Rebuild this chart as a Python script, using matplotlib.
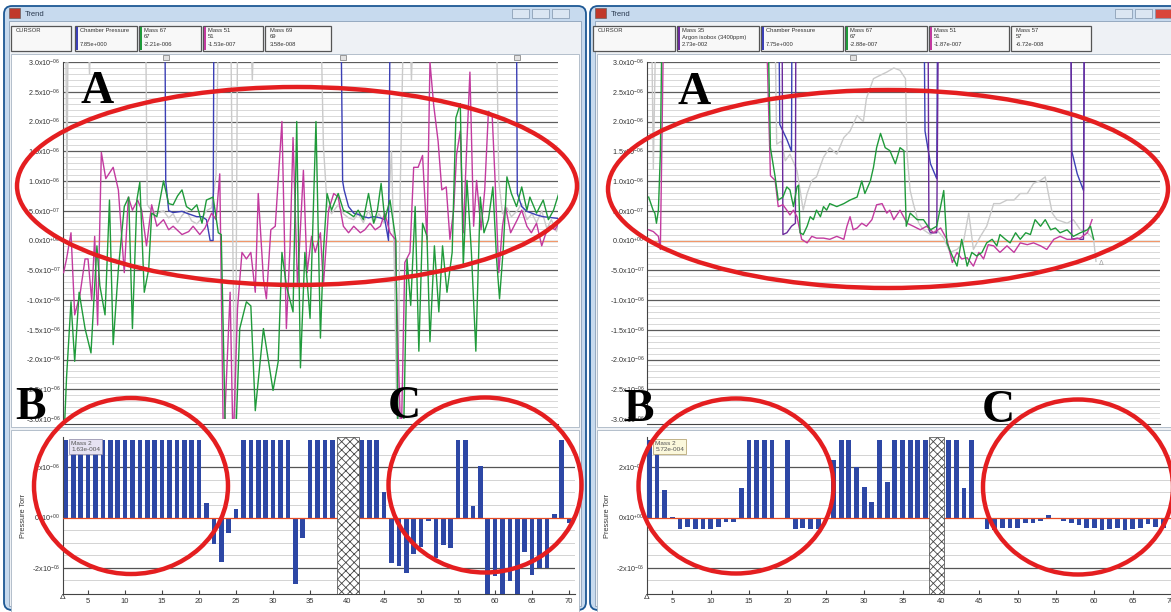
import numpy as np
import matplotlib.pyplot as plt
from matplotlib.patches import Ellipse, FancyBboxPatch, Rectangle

plt.rcParams['font.family'] = ['Liberation Sans', 'DejaVu Sans']
plt.rcParams['mathtext.fontset'] = 'custom'
plt.rcParams['mathtext.rm'] = 'Liberation Sans'
plt.rcParams['mathtext.it'] = 'Liberation Sans:italic'
plt.rcParams['mathtext.bf'] = 'Liberation Sans:bold'
plt.rcParams['hatch.linewidth'] = 0.6

# values in units of 1e-6 Torr ; 3.5 / -3.5 = off the scale
# ---------- left window, top trend ----------
lt_green_t = [1.7, 2.1, 2.7, 3.2, 3.8, 4.6, 5.4, 6.2, 6.6, 7.3, 7.9, 8.4, 9.1, 9.9, 10.5, 11.0, 11.6, 12.0, 12.6, 13.2,
              13.6, 14.3, 15.2, 15.9, 16.5, 17.1, 17.7, 18.3, 19.0, 19.7, 20.4, 21.0, 21.9, 22.6, 23.0, 23.6, 24.9, 25.5,
              26.4, 27.0, 27.6, 28.7, 30.0, 30.7, 31.2, 31.8, 32.7, 33.2, 33.7, 34.3, 35.0, 35.8, 36.4, 36.8, 37.3, 37.9,
              38.8, 39.5, 40.2, 40.9, 41.5, 42.2, 42.9, 43.6, 44.1, 44.6, 45.1, 45.8, 46.6, 46.9, 47.6, 48.1, 48.6, 49.2,
              49.7, 50.2, 50.8, 51.2, 51.8, 52.4, 52.9, 53.5, 54.2, 54.7, 55.3, 55.7, 56.2, 56.8, 57.4, 58.0, 58.5, 59.1,
              59.7, 60.2, 60.6, 61.1, 61.6, 62.2, 62.9, 63.6, 64.3, 64.7, 65.6, 66.5, 67.2, 67.9, 68.6]
lt_green_y = [-3.5, -2.3, -1.03, -2.03, -0.87, -1.48, -1.89, -0.09, -0.76, -1.25, 0.68, -1.75, -0.48, 0.57, 0.73, -1.48,
              0.68, 0.98, -0.87, -0.48, 0.46, 0.40, 1.0, 0.62, 0.6, 0.75, 0.85, 0.57, 0.51, 0.6, 0.29, 0.68, 0.73, 0.13,
              0.1, -3.5, -3.5, -1.48, -1.03, -1.1, -2.86, -1.48, -2.52, -2.03, -0.2, -0.76, -1.2, 2.0, -2.14, -0.2, -1.31,
              2.0, -1.64, -0.2, 0.79, 0.51, 0.79, 0.51, 0.46, 0.4, 0.51, 0.35, 0.79, 0.29, 0.51, 0.96, 0.35, 0.68, 0.0,
              -3.5, -3.5, -0.31, -1.09, 0.57, -1.86, 0.29, 0.07, -1.7, -0.09, -1.2, -0.09, -0.87, -0.2, 2.06, 2.3, -0.43,
              1.01, -0.2, -1.86, 0.73, 0.13, 0.35, 0.9, -0.31, -0.98, -0.15, 1.07, 0.79, 0.57, 0.9, 0.51, 0.73, 0.46,
              0.68, 0.35, 0.51, 0.79]
lt_mag_t = [1.7, 2.1, 2.7, 3.2, 3.9, 4.6, 5.0, 5.5, 5.9, 6.3, 6.8, 7.4, 8.4, 9.1, 9.9, 10.45, 11.0, 11.7, 12.25, 12.9,
            13.6, 14.3, 15.2, 15.9, 16.5, 17.7, 18.6, 19.2, 20.1, 20.8, 21.7, 22.3, 22.8, 23.3, 24.2, 24.6, 25.2, 25.8,
            26.4, 27.0, 27.6, 28.0, 28.7, 29.1, 29.7, 30.3, 31.2, 31.8, 32.3, 32.7, 33.3, 34.1, 34.6, 35.2, 35.7, 36.4,
            36.8, 37.5, 38.2, 38.8, 39.5, 40.2, 40.9, 41.8, 42.4, 43.1, 43.8, 44.5, 45.1, 45.8, 46.5, 46.9, 47.3, 47.8,
            48.5, 49.0, 49.6, 50.2, 50.8, 51.2, 51.7, 52.3, 52.8, 53.4, 53.9, 54.4, 54.8, 55.3, 55.7, 56.2, 56.6, 57.1,
            57.5, 58.1, 58.6, 59.1, 59.6, 60.0, 60.5, 61.0, 61.4, 62.1, 63.0, 63.6, 64.3, 64.9, 65.6, 66.3, 66.8, 67.4,
            68.1, 68.6]
lt_mag_y = [-0.54, -0.31, 0.13, -1.25, -0.92, -0.31, -0.31, -1.0, 0.07, -1.42, 1.48, 1.04, 1.23, 0.85, -0.54, 0.73,
            0.51, 0.68, 0.51, -0.09, 0.6, 0.24, 0.35, 0.18, 0.24, 0.1, 0.15, 0.24, 0.1, 0.21, 0.46, 0.35, 1.12, -3.5,
            -0.87, -3.5, -1.14, -0.2, -0.31, -0.2, -0.87, 0.79, -0.65, -0.98, 0.18, 0.24, 2.0, -1.48, -0.09, 1.73, -0.76,
            1.18, -0.54, 0.07, -0.2, 0.13, -0.76, 0.51, 0.79, 0.73, 0.24, 0.13, 0.24, 0.13, 0.18, 0.29, 0.18, 0.24,
            0.46, 0.13, 0.02, -1.86, -3.5, -0.37, -0.2, 1.23, 1.23, 1.43, 0.02, 3.0, 2.28, 1.67, 0.85, 0.9, 0.02, 0.51,
            1.45, 1.84, 0.13, 1.67, 2.83, 0.24, 1.01, 0.18, 0.85, 2.17, 2.12, 1.01, -0.54, 0.24, 0.57, 0.13, 0.35, 0.51,
            0.24, 0.13, 0.29, -0.09, 0.1, 0.24, 0.18, 0.29]
lt_blue_t = [1.7, 15.4, 15.5, 15.9, 16.5, 17.7, 18.3, 19.0, 19.7, 20.4, 21.0, 21.5, 21.9, 22.0, 39.2, 39.4, 39.6, 40.2,
             40.9, 41.5, 42.2, 42.9, 43.6, 44.5, 45.1, 45.6, 45.8, 62.9, 63.0, 63.6, 64.3, 65.6, 66.5, 67.9, 68.6]
lt_blue_y = [3.5, 3.5, 1.0, 0.5, 0.47, 0.49, 0.46, 0.43, 0.4, 0.4, 0.35, 0.0, 0.0, 3.5, 3.5, 1.0, 0.85, 0.57, 0.46, 0.44,
             0.4, 0.38, 0.4, 0.38, 0.35, 0.0, 3.5, 3.5, 0.79, 0.57, 0.49, 0.43, 0.4, 0.38, 0.37]
lt_gray_t = [1.7, 2.0, 2.15, 2.3, 5.0, 5.2, 5.4, 12.8, 13.0, 13.6, 14.3, 15.2, 15.9, 16.5, 17.1, 17.7, 18.3, 19.0, 19.7,
             20.4, 21.0, 21.7, 22.3, 22.6, 24.3, 24.6, 24.9, 25.2, 27.0, 27.2, 27.4, 36.5, 36.8, 37.3, 37.9, 38.8, 39.5,
             40.2, 40.9, 41.5, 42.2, 42.9, 43.6, 44.3, 45.0, 45.6, 46.0, 46.4, 46.8, 47.2, 47.6, 48.5, 48.7, 48.9, 60.2,
             60.5, 61.0, 61.6, 62.2, 63.0, 63.6, 64.3, 65.0, 65.6, 66.3, 67.0, 67.6, 68.3, 68.6]
lt_gray_y = [3.5, 3.5, 0.7, 3.5, 3.5, 2.8, 3.5, 3.5, 0.6, 0.5, 0.45, 0.5, 0.38, 0.45, 0.3, 0.42, 0.5, 0.33, 0.28, 0.38,
             0.5, 0.55, 1.1, 3.5, 3.5, -0.5, -3.5, 3.5, 3.5, 2.7, 3.5, 3.5, 1.6, 0.6, 0.45, 0.6, 0.45, 0.38, 0.35, 0.45,
             0.3, 0.5, 0.3, 0.45, 0.3, 0.6, 1.5, -0.5, -3.5, 1.0, 3.5, 3.5, 2.7, 3.5, 3.5, 1.0, 0.45, 0.55, 0.4, 0.5,
             0.62, 0.35, 0.45, 0.3, 0.5, 0.2, 0.35, 0.15, 0.3]

# ---------- right window, top trend ----------
rt_green_t = [1.9, 2.5, 2.7, 2.9, 3.15, 3.4, 3.6, 17.2, 17.5, 18.1, 18.5, 19.1, 19.6, 20.0, 20.45, 20.9, 21.1, 21.3,
              21.7, 22.2, 22.6, 23.0, 23.4, 23.9, 24.3, 24.7, 25.1, 26.0, 26.9, 27.7, 28.6, 29.2, 29.6, 30.3, 30.7, 31.1,
              31.6, 32.2, 32.8, 33.5, 34.1, 34.6, 34.9, 35.4, 36.3, 37.1, 38.0, 38.8, 39.7, 40.1, 40.8, 41.4, 42.0, 42.7,
              43.3, 43.9, 44.6, 45.2, 45.9, 46.5, 46.9, 47.6, 48.2, 48.9, 49.5, 50.2, 50.8, 51.4, 52.1, 52.7, 53.4, 54.0,
              54.6, 55.5, 56.3, 57.2, 58.1, 58.5, 58.9]
rt_green_y = [0.73, 0.5, 0.46, 0.29, 0.51, 1.45, 3.5, 3.5, 1.56, 1.07, 0.68, 0.73, 0.9, 0.85, 0.57, 0.9, 0.93, 0.13, 0.1,
              0.24, 0.4, 0.35, 0.51, 0.4, 0.57, 0.51, 0.62, 0.57, 0.62, 0.68, 0.73, 1.0, 0.79, 1.0, 1.23, 1.56, 1.8, 1.56,
              1.51, 1.29, 1.56, 1.51, 0.24, 0.46, 0.35, 0.35, 0.18, 0.24, 0.84, -0.04, -0.26, -0.43, 0.02, -0.43, -0.2,
              -0.26, -0.2, -0.04, 0.02, -0.09, 0.1, 0.02, -0.04, 0.13, 0.02, 0.13, 0.1, 0.35, 0.24, 0.35, 0.18, 0.21,
              0.13, 0.18, 0.07, 0.13, 0.18, 0.24, 0.02]
rt_mag_t = [1.9, 2.5, 3.15, 3.4, 3.8, 17.0, 17.5, 18.1, 18.5, 19.1, 19.6, 20.0, 20.45, 20.9, 21.5, 22.2, 22.8, 23.4,
            24.3, 25.1, 26.0, 26.9, 27.3, 27.7, 28.1, 28.6, 29.2, 29.8, 30.5, 31.1, 31.8, 32.4, 32.8, 33.3, 34.1, 35.0,
            35.8, 36.7, 37.5, 38.4, 39.3, 40.1, 40.8, 41.4, 42.0, 42.7, 43.5, 44.2, 44.8, 45.4, 46.1, 46.9, 47.8, 48.7,
            49.5, 50.4, 51.2, 52.1, 52.9, 53.8, 54.6, 55.5, 56.3, 57.2, 58.1, 58.7]
rt_mag_y = [0.18, 0.15, 0.07, -0.15, 3.5, 3.5, 1.09, 1.01, 0.57, 0.6, 0.51, 0.43, 0.51, 0.4, 0.02, -0.04, 0.07, 0.04,
            0.04, 0.02, 0.07, 0.02, 0.24, 0.4, 0.18, 0.21, 0.29, 0.24, 0.35, 0.6, 0.62, 0.46, 0.51, 0.35, 0.51, 0.29,
            0.24, 0.18, 0.24, 0.13, 0.21, 0.02, -0.37, -0.2, -0.31, -0.29, -0.43, -0.2, -0.31, -0.07, -0.09, -0.2,
            -0.09, -0.2, -0.04, -0.07, -0.04, -0.09, -0.15, 0.02, 0.07, 0.02, 0.02, 0.04, 0.13, 0.35]
rt_purple_t = [1.7, 19.0, 19.1, 19.6, 20.2, 20.7, 20.75, 37.7, 37.8, 38.0, 38.4, 38.8, 39.0, 56.0, 56.1, 56.8, 57.2,
               57.6, 57.7, 58.9]
rt_purple_y = [3.5, 3.5, 0.1, 0.13, 0.24, 0.29, 3.5, 3.5, 0.18, 0.13, 0.13, 0.13, 3.5, 3.5, 0.02, 0.04, 0.02, 0.02,
               3.5, 3.5]
rt_blue_t = [1.7, 18.6, 18.7, 19.6, 20.2, 20.25, 37.2, 37.3, 38.0, 38.8, 38.9, 56.0, 56.1, 56.8, 57.6, 57.7, 58.9]
rt_blue_y = [3.5, 3.5, 1.95, 1.7, 1.5, 3.5, 3.5, 1.84, 1.29, 1.04, 3.5, 3.5, 1.5, 1.12, 0.84, 3.5, 3.5]
rt_gray_t = [1.7, 2.3, 2.5, 2.8, 18.1, 18.3, 18.9, 19.4, 20.0, 20.9, 21.7, 22.2, 22.8, 23.4, 24.3, 25.1, 26.0, 26.9,
             27.7, 28.6, 29.4, 29.8, 30.7, 31.6, 32.4, 33.3, 34.1, 34.8, 35.0, 35.4, 35.8, 36.5, 37.1, 38.0, 38.8, 39.7,
             40.5, 41.4, 42.2, 42.9, 43.5, 44.4, 45.2, 46.1, 46.9, 47.8, 48.7, 49.5, 50.4, 51.2, 52.1, 52.7, 53.1, 53.6,
             54.2, 55.5, 56.3, 57.2, 58.1, 58.9, 59.2]
rt_gray_y = [3.5, 3.5, 1.2, 3.5, 3.5, 1.62, 1.67, 1.34, 1.45, 1.18, 0.51, 0.79, 1.01, 1.07, 1.4, 1.56, 1.45, 1.73, 1.84,
             2.1, 2.0, 2.39, 2.72, 2.78, 2.83, 2.9, 2.86, 2.72, 1.45, 0.84, 0.62, 0.29, 0.18, 0.1, 0.18, 0.04, -0.2,
             -0.15, -0.04, 0.46, -0.15, 0.07, 0.24, 0.62, 0.62, 0.68, 0.68, 0.79, 0.79, 0.96, 1.01, 1.07, 0.79, 0.46,
             0.35, 0.29, 0.35, 0.18, 0.13, 0.02, -0.35]

# ---------- bottom bar trends (Mass 2), one bar per scan starting at scan 2 ----------
lb_vals = [3.1] * 19 + [0.56, -1.04, -1.75, -0.63, 0.32] + [3.1] * 7 + [-2.63, -0.8] + [3.1] * 4 + [0, 0, 0] + \
          [3.1] * 3 + [1.0, -1.79, -1.92, -2.19, -1.45, -1.19, -0.15, -1.59, -1.08, -1.2] + [3.1, 3.1] + \
          [0.44, 2.04, -3.1, -2.32, -3.1, -2.52, -3.1, -1.39, -2.28, -1.99, -1.99, 0.12, 3.1, -0.2]
rb_vals = [3.1, 3.1, 1.11, 0.03, -0.46, -0.37, -0.46, -0.46, -0.46, -0.37, -0.16, -0.16, 1.18] + [3.1] * 4 + \
          [-0.05, 3.1, -0.46, -0.42, -0.46, -0.46, 0.0, 2.3, 3.1, 3.1, 2.0, 1.2, 0.6, 3.1, 1.4] + [3.1] * 5 + \
          [0, 0, 3.1, 3.1, 1.18, 3.1] + \
          [-0.05, -0.46, -0.5, -0.42, -0.4, -0.42, -0.2, -0.2, -0.13, 0.1, -0.07, -0.13, -0.2, -0.29, -0.4, -0.42,
           -0.5, -0.46, -0.42, -0.5, -0.46, -0.42, -0.25, -0.37, -0.4]
lb_gap = (38.6, 41.6)
rb_gap = (38.5, 40.4)

top_ticks = [3.0, 2.5, 2.0, 1.5, 1.0, 0.5, 0.0, -0.5, -1.0, -1.5, -2.0, -2.5, -3.0]
top_tick_labels = ['3.0x10$^{-06}$', '2.5x10$^{-06}$', '2.0x10$^{-06}$', '1.5x10$^{-06}$', '1.0x10$^{-06}$',
                   '5.0x10$^{-07}$', '0.0x10$^{+00}$', '-5.0x10$^{-07}$', '-1.0x10$^{-06}$', '-1.5x10$^{-06}$',
                   '-2.0x10$^{-06}$', '-2.5x10$^{-06}$', '-3.0x10$^{-06}$']
bot_ticks = [2, 0, -2]
bot_tick_labels = ['2x10$^{-06}$', '0x10$^{+00}$', '-2x10$^{-06}$']

# header legend boxes: (x0, x1, colour, text lines)
left_boxes = [(11, 71, None, ['CURSOR']),
              (75, 137, '#3b3fb5', ['Chamber Pressure', '', '7.85e+000']),
              (139, 201, '#1f9a3a', ['Mass 67', '67', '-2.21e-006']),
              (203, 263, '#c23a9f', ['Mass 51', '51', '-1.53e-007']),
              (265, 331, None, ['Mass 69', '69', '3.58e-008'])]
right_boxes = [(593, 675, None, ['CURSOR']),
               (677, 759, '#6b2a9c', ['Mass 35', 'Argon isobox (3400ppm)', '2.73e-002']),
               (761, 843, '#3b3fb5', ['Chamber Pressure', '', '7.75e+000']),
               (845, 927, '#1f9a3a', ['Mass 67', '67', '-2.88e-007']),
               (929, 1009, '#c23a9f', ['Mass 51', '51', '-1.87e-007']),
               (1011, 1091, None, ['Mass 57', '57', '-6.72e-008'])]

BLUE, GREEN, MAG, GRAY, PURPLE = '#3b3fb5', '#1f9a3a', '#c23a9f', '#cacaca', '#6b2a9c'
BAR = '#2d47a5'
RED = '#e41e20'

W, H = 1171, 612
fig = plt.figure(figsize=(W / 100, H / 100), dpi=100)
fig.patch.set_facecolor('white')


def px_axes(x0, y0, x1, y1, z=1):
    return fig.add_axes([x0 / W, 1 - y1 / H, (x1 - x0) / W, (y1 - y0) / H], zorder=z)


# window chrome
bg = px_axes(0, 0, W, H, z=0)
bg.set_xlim(0, W)
bg.set_ylim(H, 0)
bg.axis('off')


def window(x0, x1, boxes, buttons_x):
    bg.add_patch(FancyBboxPatch((x0, 6), x1 - x0, 604, boxstyle='round,pad=0,rounding_size=8',
                                fc='#c7daee', ec='#1d5894', lw=1.3))
    bg.add_patch(Rectangle((x0 + 5, 21), x1 - x0 - 10, 585, fc='#eef1f5', ec='#8aa0b8', lw=0.6))
    bg.add_patch(Rectangle((x0 + 5, 8), 11, 10, fc='#c0392b', ec='#555', lw=0.4))
    bg.text(x0 + 21, 14, 'Trend', fontsize=5.5, color='#2a3a50', va='center')
    for i, bx in enumerate(buttons_x):
        fc = '#d9453a' if (i == 2 and x0 > 500) else '#dbe6f2'
        bg.add_patch(Rectangle((bx, 9), 17, 9, fc=fc, ec='#7f93aa', lw=0.5))
    for bx0, bx1, col, lines in boxes:
        bg.add_patch(Rectangle((bx0, 26), bx1 - bx0, 25, fc='#f8f8f8', ec='#555', lw=0.9))
        if col:
            bg.add_patch(Rectangle((bx0 + 1, 27), 2.2, 23, fc=col, ec='none'))
        for k, s in enumerate(lines):
            bg.text(bx0 + 5, 30 + k * 7, s, fontsize=4.2, color='#333', va='center')
    # chart panes
    bg.add_patch(Rectangle((x0 + 7, 54), x1 - x0 - 14, 373, fc='white', ec='#a9b6c4', lw=0.6))
    bg.add_patch(Rectangle((x0 + 7, 430), x1 - x0 - 14, 190, fc='white', ec='#a9b6c4', lw=0.6))


window(4, 586, left_boxes, [512, 532, 552])
window(590, 1200, right_boxes, [1115, 1135, 1155])
for mx in [166, 343, 517, 853]:
    bg.add_patch(Rectangle((mx - 3, 55), 6, 5, fc='#e2e2e2', ec='#777', lw=0.5))
bg.plot([63, 558], [424, 424], color='#444', lw=0.8)
bg.plot([647, 1160], [424, 424], color='#444', lw=0.8)


def top_trend(ax, xlim, series):
    ax.set_xlim(*xlim)
    ax.set_ylim(-3.0, 3.0)
    for k in range(-30, 31):
        major = k % 5 == 0
        ax.axhline(k / 10, color='#5c5c5c' if major else '#d2d2d2', lw=0.9 if major else 0.6, zorder=1)
    ax.axhline(0, color='#f2986a', lw=0.8, zorder=2)
    for t, y, c in series:
        ax.plot(t, y, color=c, lw=1.0, zorder=3)
    ax.set_yticks(top_ticks)
    ax.set_yticklabels(top_tick_labels, fontsize=5.2, color='#333')
    ax.set_xticks([])
    ax.tick_params(axis='y', length=0, pad=2)
    for s in ['top', 'right', 'bottom']:
        ax.spines[s].set_visible(False)
    ax.spines['left'].set_color('#444')
    ax.spines['left'].set_linewidth(0.8)


def bottom_trend(ax, xlim, vals, gap, box_text, box_fc, box_ec):
    x = np.arange(2, 2 + len(vals))
    ax.set_xlim(*xlim)
    ax.set_ylim(-3.04, 3.2)
    for yv in [-2.5, -1.5, -1.0, -0.5, 0.5, 1.0, 1.5, 2.5]:
        ax.axhline(yv, color='#cccccc', lw=0.6, zorder=1)
    for yv in [-2, 2]:
        ax.axhline(yv, color='#555', lw=0.9, zorder=1)
    ax.bar(x, vals, width=0.62, color=BAR, zorder=3)
    ax.axhline(0, color='#e84a22', lw=0.9, zorder=4)
    ax.axvspan(gap[0], gap[1], fc='white', ec='#444', hatch='xxxx', lw=0.5, zorder=5)
    ax.set_xticks(range(5, 71, 5))
    ax.set_xticklabels([str(v) for v in range(5, 71, 5)], fontsize=5.5, color='#333')
    ax.tick_params(axis='x', direction='in', length=3, pad=3, color='#444')
    ax.set_yticks(bot_ticks)
    ax.set_yticklabels(bot_tick_labels, fontsize=5.2, color='#333')
    ax.tick_params(axis='y', length=0, pad=2)
    ax.set_ylabel('Pressure Torr', fontsize=5.3, color='#333', labelpad=3)
    for s in ['top', 'right']:
        ax.spines[s].set_visible(False)
    for s in ['left', 'bottom']:
        ax.spines[s].set_color('#444')
        ax.spines[s].set_linewidth(0.8)
    ax.text(xlim[0], -3.04, '\u0394', fontsize=6, ha='center', va='top', color='#333')
    ax.text(0.016, 0.975, box_text, transform=ax.transAxes, fontsize=4.6, color='#555', va='top', zorder=6,
            bbox=dict(boxstyle='square,pad=0.35', fc=box_fc, ec=box_ec, lw=0.6))


ax_lt = px_axes(63, 62, 558, 419)
top_trend(ax_lt, (1.62, 68.5), [(lt_gray_t, lt_gray_y, GRAY), (lt_blue_t, lt_blue_y, BLUE),
                               (lt_mag_t, lt_mag_y, MAG), (lt_green_t, lt_green_y, GREEN)])
ax_rt = px_axes(647, 62, 1160, 419)
top_trend(ax_rt, (1.69, 67.4), [(rt_gray_t, rt_gray_y, GRAY), (rt_blue_t, rt_blue_y, BLUE),
                               (rt_purple_t, rt_purple_y, PURPLE), (rt_mag_t, rt_mag_y, MAG),
                               (rt_green_t, rt_green_y, GREEN)])
ax_rt.text(59.6, -0.38, '\u0394', fontsize=5, color='#999', ha='left', va='center')

ax_lb = px_axes(63, 437, 575, 594)
bottom_trend(ax_lb, (1.62, 70.8), lb_vals, lb_gap, 'Mass 2\n1.63e-004', '#e6e2f2', '#9a96b0')
ax_rb = px_axes(647, 437, 1171, 594)
bottom_trend(ax_rb, (1.69, 68.9), rb_vals, rb_gap, 'Mass 2\n5.72e-004', '#fbf8dc', '#b8a878')

# annotations on top
ov = px_axes(0, 0, W, H, z=10)
ov.set_xlim(0, W)
ov.set_ylim(H, 0)
ov.axis('off')
ov.patch.set_alpha(0)
for cx, cy, ew, eh in [(297, 186, 560, 198), (888, 189, 560, 198), (131, 486, 194, 176),
                       (485, 485, 193, 175), (736, 486, 195, 175), (1078, 487, 190, 175)]:
    ov.add_patch(Ellipse((cx, cy), ew, eh, fill=False, ec=RED, lw=3.2))
for lx, ly, s in [(97, 92, 'A'), (694, 93, 'A'), (30, 408, 'B'), (638, 410, 'B'), (404, 407, 'C'), (998, 411, 'C')]:
    ov.text(lx, ly, s, fontsize=33, fontweight='bold', family='Liberation Serif', ha='center', va='center')

fig.savefig('out.png', dpi=100)
